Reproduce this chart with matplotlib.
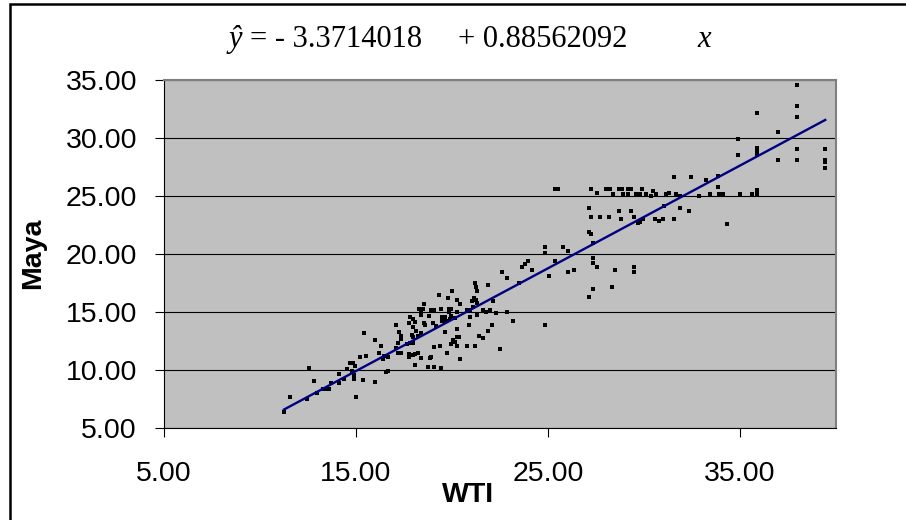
import matplotlib
matplotlib.use('Agg')
import matplotlib.pyplot as plt
from matplotlib.patches import Rectangle
from matplotlib.ticker import FormatStrFormatter

# WTI vs Maya crude prices
wti = [
    11.25, 11.56, 12.43, 12.55, 12.83, 12.95, 13.30, 13.47, 13.60, 13.72,
    14.13, 14.13, 14.38, 14.55, 14.69, 14.86, 14.97, 14.77, 14.90, 14.90,
    15.00, 15.20, 15.52, 15.38, 15.42, 16.00, 16.00, 16.28, 16.20, 16.42,
    16.54, 16.68, 16.47, 16.68, 17.08, 17.08, 17.20, 17.33, 17.25, 17.33,
    17.36, 17.20,
    17.78, 17.80, 17.98, 18.07, 17.95, 18.13, 17.90, 17.98, 17.80, 17.95,
    18.24, 18.36, 17.67, 17.76, 17.98, 18.07, 18.24, 17.78, 18.07, 18.36,
    18.85, 18.93, 18.77, 19.06, 19.44, 19.06, 19.37, 19.72, 20.42, 19.65,
    18.26, 18.36, 18.47, 18.54, 18.36, 18.59, 18.54, 18.93, 19.06, 18.81,
    19.02, 19.19, 19.33, 19.44, 19.50, 19.63, 19.50, 19.69, 19.77, 19.82,
    19.97, 19.86, 19.97, 20.02, 19.90, 20.16, 20.24, 20.42, 20.27, 20.24,
    20.24, 20.38, 20.03, 20.16, 20.24, 19.93, 20.90, 20.80, 21.21, 21.42,
    21.59, 20.76, 20.94, 20.94, 21.02, 21.15, 21.25, 21.32, 21.20, 21.25,
    21.32, 21.07, 21.32, 21.59, 21.77, 21.98, 21.89, 22.11, 22.06, 21.89,
    22.29, 22.50, 22.58, 22.88, 22.88, 23.19, 23.48, 23.67, 23.80, 23.97,
    24.17, 24.84, 24.84, 25.07, 25.36, 24.84,
    25.36, 25.53, 25.76, 26.06, 26.06, 26.35, 27.15, 27.22, 27.22, 27.15,
    27.24, 27.32, 27.32, 27.32, 27.53, 27.32, 27.14, 27.53, 27.70, 28.02,
    28.23, 28.40, 28.19, 28.50, 28.31, 28.71, 28.83, 28.71, 28.80, 28.92,
    29.18, 29.30, 29.18, 29.30, 29.49, 29.49, 29.49, 29.58, 29.79, 29.87,
    29.70, 29.79, 29.96, 30.10, 30.36, 30.48, 30.65, 30.57, 30.78, 30.97,
    31.05, 31.17, 31.28, 31.56, 31.56, 31.67, 31.87, 31.87, 32.36, 32.45,
    32.89,
    33.23, 33.44, 33.83, 33.83, 33.92, 34.13, 34.30, 34.91, 34.91, 35.00,
    35.60, 35.90, 35.90, 35.90, 35.90, 35.90, 35.90, 37.00, 37.00, 37.95,
    37.95, 37.95, 37.95, 37.95, 39.44, 39.44, 39.44, 39.44,
]
maya = [
    6.38, 7.70, 7.53, 10.15, 9.03, 8.04, 8.34, 8.34, 8.40, 8.85,
    8.85, 9.65, 9.20, 10.10, 10.58, 10.63, 10.34, 9.94, 9.57, 9.20,
    7.70, 11.10, 11.20, 9.14, 13.20, 12.60, 9.00, 12.07, 11.44, 10.92,
    9.85, 9.94, 11.20, 11.15, 13.90, 11.87, 11.50, 11.50, 13.30, 12.93,
    12.65, 12.30,
    14.03, 14.60, 14.37, 14.16, 13.68, 13.39, 13.00, 12.87, 12.35, 12.30,
    12.93, 13.16, 12.24, 11.38, 11.30, 11.38, 11.44, 11.10, 10.43, 11.00,
    11.00, 11.15, 10.23, 10.28, 10.15, 11.96, 12.09, 11.44, 10.97, 13.24,
    15.24, 15.17, 15.24, 15.69, 14.74, 13.88, 14.08, 15.17, 15.17, 14.66,
    14.03, 13.80, 16.50, 15.30, 14.54, 14.54, 14.25, 14.25, 16.18, 15.30,
    15.30, 15.03, 14.66, 16.81, 14.37, 14.45, 16.03, 15.69, 15.03, 13.50,
    12.87, 12.87, 12.59, 12.44, 12.07, 12.24, 13.88, 12.07, 12.09, 12.93,
    12.73, 15.17, 15.17, 14.54, 15.97, 16.18, 16.03, 15.80, 17.53, 17.18,
    16.81, 15.40, 14.74, 15.17, 15.03, 15.17, 17.33, 15.92, 13.88, 13.39,
    14.88, 11.78, 18.45, 17.96, 15.03, 14.22, 17.47, 18.90, 19.11, 19.42,
    18.62, 20.63, 20.11, 18.10, 19.42, 13.88,
    25.63, 25.63, 20.58, 20.26, 18.47, 18.62, 23.99, 25.63, 23.16, 21.90,
    21.72, 20.92, 19.63, 19.25, 18.90, 17.00, 16.32, 25.29, 23.16, 25.63,
    25.63, 25.14, 23.16, 18.62, 17.13, 25.63, 25.63, 23.68, 22.98, 25.14,
    25.63, 25.63, 25.14, 23.68, 23.16, 18.90, 18.45, 25.14, 25.14, 25.63,
    22.64, 22.78, 22.98, 25.14, 25.00, 25.46, 25.14, 22.98, 22.84, 22.98,
    24.16, 25.14, 25.29, 26.60, 22.98, 25.14, 25.00, 23.99, 23.68, 26.60,
    25.00,
    26.37, 25.14, 26.75, 25.80, 25.14, 25.14, 22.56, 29.89, 28.57, 25.14,
    25.14, 32.18, 29.10, 28.90, 28.60, 25.52, 25.14, 30.54, 28.07, 34.60,
    32.80, 31.84, 29.05, 28.07, 29.05, 28.07, 27.95, 27.40,
]

# fitted line shown in the title
intercept = -3.3714018
slope = 0.88562092

x_ticks = [5, 15, 25, 35]
y_ticks = [5, 10, 15, 20, 25, 30, 35]

W, H = 906, 520
fig = plt.figure(figsize=(W / 100, H / 100), dpi=100)

# plot area in pixel terms
left, right, top, bottom = 164, 836, 80, 428
ax = fig.add_axes([left / W, 1 - bottom / H, (right - left) / W, (bottom - top) / H])
ax.set_facecolor('#c0c0c0')

ax.plot(wti, maya, 's', color='black', markersize=2.8, markeredgewidth=0, zorder=3)
line_x = [min(wti), max(wti)]
ax.plot(line_x, [intercept + slope * v for v in line_x], color='#000080', lw=1.7, zorder=4)

ax.set_xlim(5, 40)
ax.set_ylim(5, 35)
ax.set_xticks(x_ticks)
ax.set_yticks(y_ticks)
ax.xaxis.set_major_formatter(FormatStrFormatter('%.2f'))
ax.yaxis.set_major_formatter(FormatStrFormatter('%.2f'))
ax.yaxis.grid(True, color='black', lw=0.8)
ax.set_axisbelow(True)

for side in ['top', 'right']:
    ax.spines[side].set_color('#808080')
    ax.spines[side].set_linewidth(1.5)
for side in ['left', 'bottom']:
    ax.spines[side].set_color('black')
    ax.spines[side].set_linewidth(0.8)

ax.tick_params(axis='both', direction='out', length=6.5, width=0.8, labelsize=20.5)
ax.tick_params(axis='y', pad=13)
ax.tick_params(axis='x', pad=17)
for lbl in ax.get_xticklabels() + ax.get_yticklabels():
    lbl.set_fontfamily('Liberation Sans')

fig.text(33.5 / W, 1 - 253 / H, 'Maya', rotation=90, ha='center', va='center',
         fontsize=20.5, fontweight='bold', family='Liberation Sans')
fig.text(468 / W, 1 - 495 / H, 'WTI', ha='center', va='center',
         fontsize=20.5, fontweight='bold', family='Liberation Sans')

# regression equation
base = 1 - 47 / H
eq_size = 22
fig.text(229 / W, base, 'ŷ', fontsize=eq_size, family='Liberation Serif', style='italic', va='baseline')
fig.text(250 / W, base, '= - 3.3714018', fontsize=eq_size, family='Liberation Serif', va='baseline')
fig.text(458 / W, base, '+ 0.88562092', fontsize=eq_size, family='Liberation Serif', va='baseline')
fig.text(697 / W, base, 'x', fontsize=eq_size, family='Liberation Serif', style='italic', va='baseline')

# outer chart border
fig.patches.append(Rectangle((10 / W, -0.5), 2, (1 - 4 / H) + 0.5, transform=fig.transFigure,
                             fill=False, ec='black', lw=1.8))

fig.savefig('out.png', dpi=100)
